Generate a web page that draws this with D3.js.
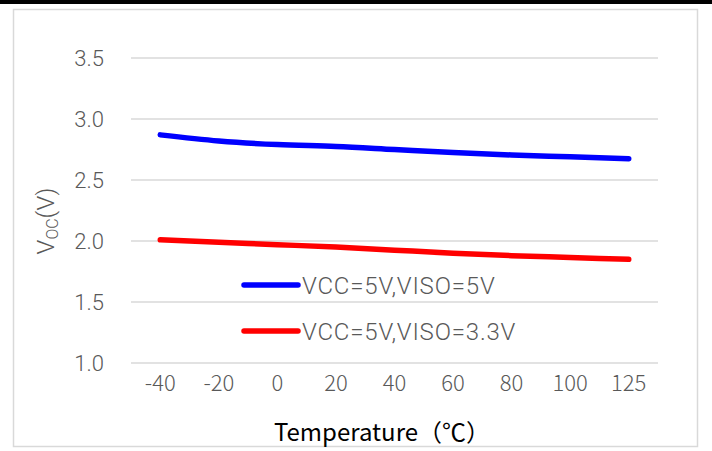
<!DOCTYPE html>
<html>
<head>
<meta charset="utf-8">
<script src="https://cdn.jsdelivr.net/npm/d3@7"></script>
<style>
  html, body { margin: 0; padding: 0; background: #fff; }
  svg { display: block; }
</style>
</head>
<body>
<svg id="chart" width="712" height="451"></svg>
<script>
// Temperature points along the x axis
const temperatures = ["-40", "-20", "0", "20", "40", "60", "80", "100", "125"];
// Output voltage for each supply configuration
const vocViso5 = [2.87, 2.82, 2.79, 2.775, 2.75, 2.725, 2.705, 2.69, 2.675];
const vocViso33 = [2.01, 1.99, 1.97, 1.95, 1.925, 1.90, 1.88, 1.865, 1.85];
const seriesNames = ["VCC=5V,VISO=5V", "VCC=5V,VISO=3.3V"];
const seriesColors = ["#0000ff", "#ff0000"];
const yTicks = [1.0, 1.5, 2.0, 2.5, 3.0, 3.5];

const series = [vocViso5, vocViso33];

const svg = d3.select("#chart");
const W = 712, H = 451;

// Top black strip
svg.append("rect").attr("x", 0).attr("y", 0).attr("width", W).attr("height", 4).attr("fill", "#000");

// Chart frame
svg.append("rect")
  .attr("x", 13.5).attr("y", 9.5).attr("width", 684).attr("height", 437)
  .attr("fill", "#fff").attr("stroke", "#d9d9d9").attr("stroke-width", 1.5);

const plot = { left: 131, right: 658, top: 58, bottom: 363 };

const x = d3.scaleBand().domain(temperatures).range([plot.left, plot.right]);
const y = d3.scaleLinear().domain([1.0, 3.5]).range([plot.bottom, plot.top]);

// Horizontal gridlines
svg.append("g")
  .selectAll("line")
  .data(yTicks)
  .join("line")
  .attr("x1", plot.left).attr("x2", plot.right)
  .attr("y1", d => y(d)).attr("y2", d => y(d))
  .attr("stroke", "#d9d9d9").attr("stroke-width", 1.5);

// Y axis tick labels
const yAxis = d3.axisLeft(y).tickValues(yTicks).tickFormat(d3.format(".1f")).tickSize(0).tickPadding(0);
const gy = svg.append("g").attr("transform", `translate(104,0)`).call(yAxis);
gy.select(".domain").remove();
gy.selectAll("text")
  .attr("fill", "#595959")
  .attr("font-family", "Roboto, 'Liberation Sans', sans-serif")
  .attr("font-weight", 300)
  .attr("font-size", 22)
  .attr("dy", "0.36em");

// X axis tick labels
const xAxis = d3.axisBottom(x).tickSize(0).tickPadding(0);
const gx = svg.append("g").attr("transform", `translate(0,375)`).call(xAxis);
gx.select(".domain").remove();
gx.selectAll("text")
  .attr("fill", "#595959")
  .attr("font-family", "'Noto Sans CJK SC', sans-serif")
  .attr("font-weight", 300)
  .attr("font-size", 22)
  .attr("dy", "0.72em");

// Data lines
const line = d3.line()
  .x((d, i) => x(temperatures[i]) + x.bandwidth() / 2)
  .y(d => y(d))
  .curve(d3.curveMonotoneX);

svg.append("g")
  .selectAll("path")
  .data(series)
  .join("path")
  .attr("d", d => line(d))
  .attr("fill", "none")
  .attr("stroke", (d, i) => seriesColors[i])
  .attr("stroke-width", 5.5)
  .attr("stroke-linecap", "round")
  .attr("stroke-linejoin", "round");

// Legend
const legendY = [285, 331];
const legend = svg.append("g")
  .selectAll("g")
  .data(seriesNames)
  .join("g")
  .attr("transform", (d, i) => `translate(244,${legendY[i]})`);
legend.append("line")
  .attr("x1", 0).attr("x2", 54).attr("y1", 0).attr("y2", 0)
  .attr("stroke", (d, i) => seriesColors[i])
  .attr("stroke-width", 5.5)
  .attr("stroke-linecap", "round");
legend.append("text")
  .attr("x", 58).attr("y", 0).attr("dy", "0.36em")
  .attr("fill", "#595959")
  .attr("font-family", "Roboto, 'Liberation Sans', sans-serif")
  .attr("font-weight", 300)
  .attr("font-size", 24)
  .attr("letter-spacing", 0.8)
  .text(d => d);

// Axis titles
const yTitle = svg.append("text")
  .attr("transform", `translate(54,221) rotate(-90)`)
  .attr("text-anchor", "middle")
  .attr("fill", "#595959")
  .attr("font-family", "Roboto, 'Liberation Sans', sans-serif")
  .attr("font-weight", 300)
  .attr("font-size", 24);
yTitle.append("tspan").text("V");
yTitle.append("tspan").attr("font-size", 16).attr("dy", 4).text("OC");
yTitle.append("tspan").attr("dy", -4).text("(V)");

svg.append("text")
  .attr("x", 382).attr("y", 441)
  .attr("text-anchor", "middle")
  .attr("fill", "#000")
  .attr("font-family", "'Noto Sans CJK SC', sans-serif")
  .attr("font-size", 24)
  .text("Temperature（℃）");
</script>
</body>
</html>
